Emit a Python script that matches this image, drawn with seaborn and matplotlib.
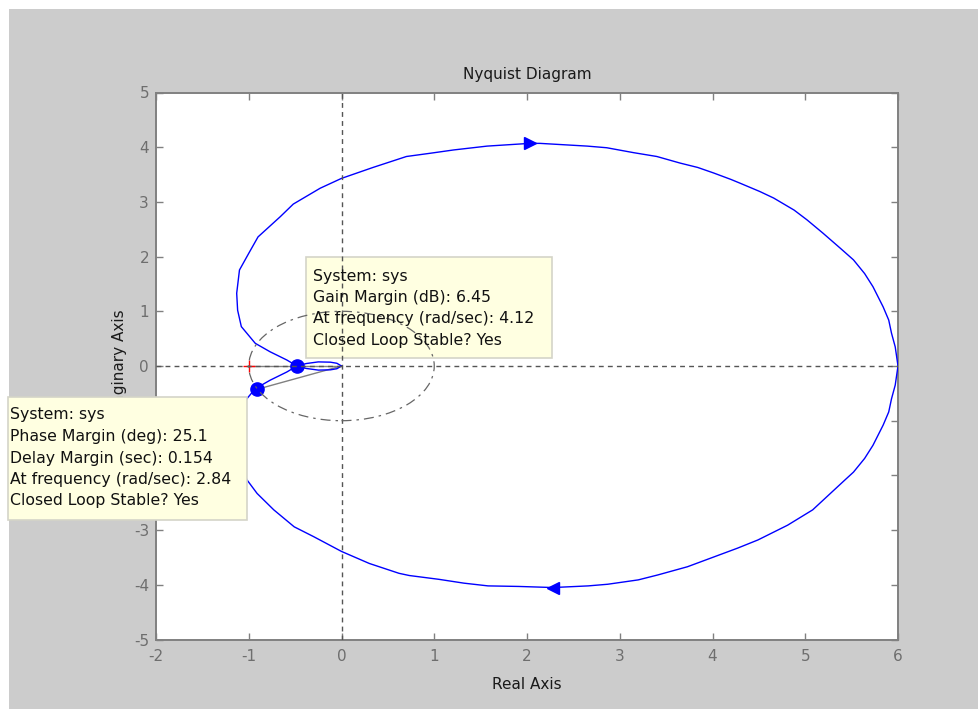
import matplotlib
matplotlib.use("Agg")
import matplotlib.pyplot as plt
import seaborn as sns
import numpy as np
import pandas as pd
from matplotlib.patches import Rectangle, Circle

sns.set_style("ticks")
plt.rcParams['font.family'] = ['DejaVu Sans']
plt.rcParams['axes.unicode_minus'] = False

# ---- data ----
# negative-frequency branch (origin -> (6,0)), upper half
neg_re = [0.00, -0.05, -0.12, -0.25, -0.38, -0.48, -0.59, -0.77, -0.93, -1.08, -1.12, -1.13,
          -1.10, -1.00, -0.90, -0.66, -0.52, -0.23, 0.00, 0.34, 0.70, 0.96, 1.21, 1.57, 2.03,
          2.14, 2.65, 2.86, 3.15, 3.40, 3.65, 3.84, 4.01, 4.20, 4.30, 4.51, 4.66, 4.73, 4.88,
          5.02, 5.19, 5.38, 5.52, 5.64, 5.73, 5.84, 5.90, 5.93, 5.97, 6.00]
neg_im = [0.00, -0.05, -0.07, -0.075, -0.045, 0.00, 0.11, 0.26, 0.415, 0.72, 1.02, 1.33,
          1.755, 2.06, 2.36, 2.73, 2.96, 3.25, 3.43, 3.63, 3.83, 3.89, 3.95, 4.02, 4.07,
          4.07, 4.02, 3.99, 3.90, 3.83, 3.71, 3.63, 3.53, 3.41, 3.34, 3.19, 3.07, 3.00, 2.85,
          2.67, 2.43, 2.15, 1.94, 1.69, 1.45, 1.08, 0.84, 0.60, 0.35, 0.00]
# positive-frequency branch ((6,0) -> origin), lower half
pos_re = [6.00, 5.97, 5.93, 5.90, 5.84, 5.73, 5.64, 5.52, 5.43, 5.08, 4.81, 4.49, 4.27, 4.00,
          3.73, 3.41, 3.20, 2.87, 2.66, 2.28, 1.91, 1.58, 1.32, 1.05, 0.73, 0.62, 0.30, 0.00,
          -0.30, -0.51, -0.73, -0.91, -1.02, -1.10, -1.13, -1.12, -1.08, -0.93, -0.77, -0.59,
          -0.48, -0.38, -0.25, -0.12, -0.05, 0.00]
pos_im = [0.00, -0.35, -0.60, -0.84, -1.08, -1.45, -1.69, -1.94, -2.08, -2.63, -2.91, -3.18,
          -3.33, -3.50, -3.67, -3.82, -3.91, -3.99, -4.02, -4.05, -4.03, -4.02, -3.97, -3.90,
          -3.83, -3.79, -3.61, -3.39, -3.12, -2.94, -2.63, -2.33, -2.08, -1.755, -1.33, -1.02,
          -0.72, -0.415, -0.26, -0.11, 0.00, 0.045, 0.075, 0.07, 0.05, 0.00]

gm_point = (-0.476, 0.0)
pm_point = (-0.906, -0.424)
critical_point = (-1.0, 0.0)
arrow_up_idx = 24     # neg branch point near x=2.03
arrow_dn_idx = 19     # pos branch point near x=2.28

x_ticks = [-2, -1, 0, 1, 2, 3, 4, 5, 6]
y_ticks = [-5, -4, -3, -2, -1, 0, 1, 2, 3, 4, 5]

gm_lines = ["System: sys", "Gain Margin (dB): 6.45",
            "At frequency (rad/sec): 4.12", "Closed Loop Stable? Yes"]
pm_lines = ["System: sys", "Phase Margin (deg): 25.1", "Delay Margin (sec): 0.154",
            "At frequency (rad/sec): 2.84", "Closed Loop Stable? Yes"]

# ---- figure ----
W, H = 979, 709
fig = plt.figure(figsize=(W / 100, H / 100), dpi=100, facecolor='white')
fig.add_artist(Rectangle((9 / W, 0), 1 - 9 / W, 1 - 9 / H, transform=fig.transFigure,
                         facecolor='#cccccc', edgecolor='none', zorder=-1))
ax = fig.add_axes([156 / W, 1 - 639.5 / H, (898 - 156) / W, (639.5 - 92.5) / H])
ax.set_facecolor('white')

blue = '#0000ff'
df_neg = pd.DataFrame({'re': neg_re, 'im': neg_im})
df_pos = pd.DataFrame({'re': pos_re, 'im': pos_im})
sns.lineplot(data=df_neg, x='re', y='im', sort=False, estimator=None, color=blue,
             lw=1.0, ax=ax, zorder=3)
sns.lineplot(data=df_pos, x='re', y='im', sort=False, estimator=None, color=blue,
             lw=1.0, ax=ax, zorder=3)

# arrows
ax.plot(neg_re[arrow_up_idx], neg_im[arrow_up_idx], marker='>', color=blue, ms=9, zorder=4)
ax.plot(pos_re[arrow_dn_idx], pos_im[arrow_dn_idx], marker='<', color=blue, ms=9, zorder=4)

# margin lines
ax.plot([critical_point[0], 0], [critical_point[1], 0], color='#808080', lw=1.0, zorder=2.5)
ax.plot([pm_point[0], 0], [pm_point[1], 0], color='#808080', lw=1.0, zorder=2.5)
ax.plot(*critical_point, marker='+', color='red', ms=9, mew=1.0, zorder=4)
ax.plot(*gm_point, marker='o', color=blue, ms=9.5, zorder=4)
ax.plot(*pm_point, marker='o', color=blue, ms=9.5, zorder=4)

# crosshair dashed lines and unit circle
ax.axhline(0, color='#555555', lw=1.0, ls=(0, (3.5, 3)), zorder=6)
ax.axvline(0, color='#555555', lw=1.0, ls=(0, (3.5, 3)), zorder=6)
ax.add_patch(Circle((0, 0), 1.0, fill=False, edgecolor='#666666', lw=0.9,
                    ls=(0, (8, 4, 2, 4)), zorder=6))

ax.set_xlim(x_ticks[0], x_ticks[-1])
ax.set_ylim(y_ticks[0], y_ticks[-1])
ax.set_xticks(x_ticks)
ax.set_yticks(y_ticks)
ax.tick_params(direction='in', length=5, width=1.0, color='#808080', labelcolor='#6e6e6e',
               top=True, right=True, labelsize=11)
ax.tick_params(axis='x', pad=7)
ax.tick_params(axis='y', pad=5)
for s in ax.spines.values():
    s.set_color('#808080')
    s.set_linewidth(1.4)

ax.set_title('Nyquist Diagram', fontsize=11, color='#1a1a1a', pad=10)
ax.set_xlabel('Real Axis', fontsize=11, color='#1a1a1a', labelpad=9)
ax.set_ylabel('Imaginary Axis', fontsize=11, color='#1a1a1a', labelpad=5)

# tooltip boxes (figure pixel coordinates)
def box(x0, y0, x1, y1, lines, tx, ty0, dy):
    ax.add_patch(Rectangle((x0 / W, 1 - y1 / H), (x1 - x0) / W, (y1 - y0) / H,
                           transform=fig.transFigure, facecolor='#ffffe1',
                           edgecolor='#d4d4c8', lw=1.2, clip_on=False, zorder=5))
    for i, ln in enumerate(lines):
        ax.text(tx / W, 1 - (ty0 + i * dy) / H, ln, transform=fig.transFigure,
                fontsize=11.3, color='#111111', va='center', ha='left',
                clip_on=False, zorder=7)

box(305.5, 256.5, 552, 357.5, gm_lines, 313, 276, 21.5)
box(8, 396.5, 247.5, 520, pm_lines, 10, 415, 21.5)

fig.savefig('out.png', dpi=100, facecolor=fig.get_facecolor())
